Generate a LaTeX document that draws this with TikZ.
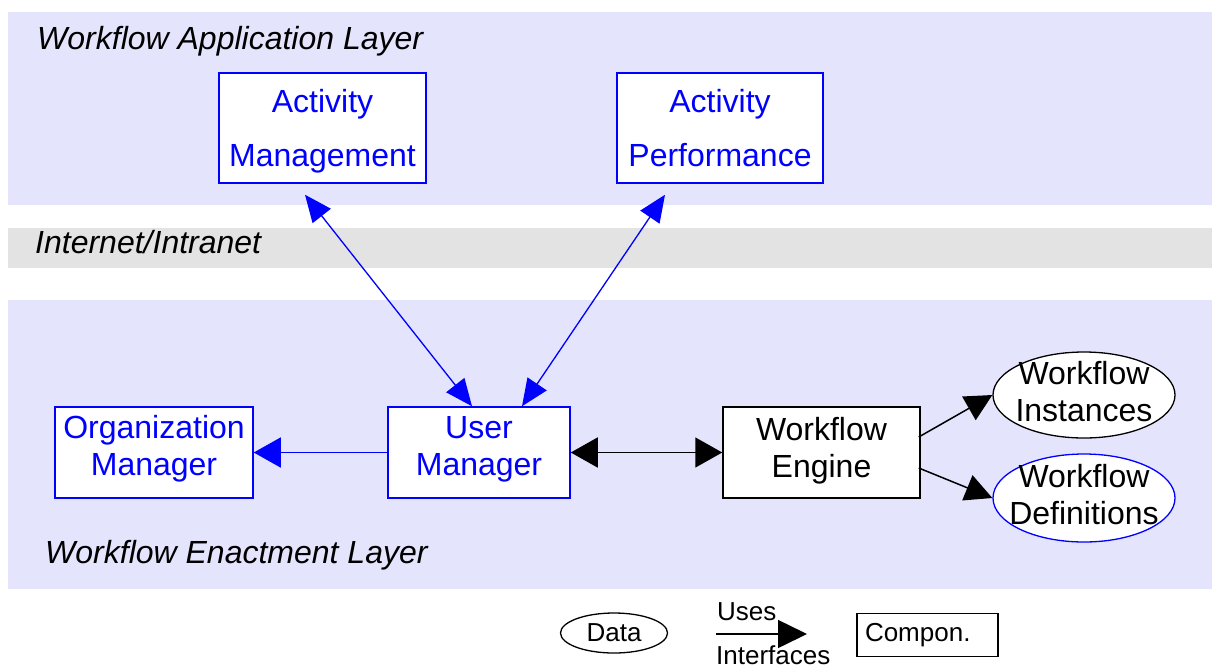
\documentclass[tikz,border=0pt]{standalone}
\usepackage{fontspec}
\setmainfont{Liberation Sans}
\usetikzlibrary{arrows.meta,shapes.geometric}
\definecolor{lav}{RGB}{228,228,252}
\definecolor{grayband}{RGB}{227,227,227}
\definecolor{bl}{RGB}{0,0,255}
\begin{document}
\begin{tikzpicture}[x=1pt,y=-1pt,
  comp/.style={draw=bl, fill=white, line width=1.5pt, text=bl, inner sep=0pt, align=center,
    font=\fontsize{32pt}{37pt}\selectfont},
  compblack/.style={comp, draw=black, text=black},
  dataell/.style={draw=black, fill=white, ellipse, line width=1.3pt, inner sep=0pt},
  lbl/.style={font=\fontsize{32pt}{37pt}\selectfont, align=center, inner sep=0pt},
  layer/.style={font=\fontsize{32pt}{37pt}\selectfont\itshape, anchor=base west, inner sep=0pt},
  legend/.style={font=\fontsize{26pt}{30pt}\selectfont, inner sep=0pt},
  conn/.style={line width=1.5pt},
  dtip/.tip={Triangle[length=27pt,width=23pt]},
  htip/.tip={Triangle[length=27pt,width=30pt]},
]
\useasboundingbox (0,0) rectangle (1212,670);
% bands
\fill[lav] (8,12) rectangle (1212,205);
\fill[grayband] (8,228) rectangle (1212,268);
\fill[lav] (8,300) rectangle (1212,589);
% layer labels
\node[layer] (lapp) at (37,49) {Workflow Application Layer};
\node[layer] (lnet) at (35,253) {Internet/Intranet};
\node[layer] (lenact) at (45,563) {Workflow Enactment Layer};
% components
\node[comp, minimum width=207pt, minimum height=110pt, font=\fontsize{32pt}{54pt}\selectfont, text depth=0pt] (am) at (322.5,128) {Activity\\Management};
\node[comp, minimum width=206pt, minimum height=110pt, font=\fontsize{32pt}{54pt}\selectfont] (ap) at (720,128) {Activity\\Performance};
\node[comp, minimum width=198pt, minimum height=91pt, text depth=14.5pt] (om) at (154,452.5) {Organization\\Manager};
\node[comp, minimum width=182pt, minimum height=91pt, text depth=13.5pt] (um) at (479,452.5) {User\\Manager};
\node[compblack, minimum width=197pt, minimum height=91pt, text depth=10.5pt] (we) at (821.5,452.5) {Workflow\\Engine};
% data
\node[dataell, minimum width=182pt, minimum height=86pt] (wi) at (1084,395) {};
\node[lbl] (wit) at (1084,392) {Workflow\\Instances};
\node[dataell, draw=bl, minimum width=182pt, minimum height=88pt] (wd) at (1084,498) {};
\node[lbl] (wdt) at (1084,495) {Workflow\\Definitions};
% connectors
\draw[conn, draw=bl, line width=1.3pt, fill=bl, {dtip}-{dtip}] ([xshift=-17.5pt,yshift=-11pt]am.south) -- ([xshift=-7pt]um.north);
\draw[conn, draw=bl, line width=1.3pt, fill=bl, {dtip}-{dtip}] ([xshift=-55pt,yshift=-11pt]ap.south) -- ([xshift=43pt]um.north);
\draw[conn, draw=bl, fill=bl, -{htip}] (um.west) -- (om.east);
\draw[conn, fill=black, {htip}-{htip}] (um.east) -- (we.west);
\draw[conn, fill=black, -{Triangle[length=27pt,width=27pt]}] ([xshift=-2pt,yshift=15.5pt]we.east) -- (wi.west);
\draw[conn, fill=black, -{Triangle[length=27pt,width=27pt]}] ([xshift=-2pt,yshift=-15.5pt]we.east) -- (wd.west);
% legend
\node[dataell, minimum width=107pt, minimum height=40pt, legend] (ldata) at (614,633) {Data};
\coordinate (la) at (716,634);
\coordinate (lb) at (807,634);
\draw[conn, fill=black, -{Triangle[length=29pt,width=28pt]}] (la) -- (lb);
\node[legend, anchor=west] (luses) at (717,612) {Uses};
\node[legend, anchor=west] (lint) at (716,655) {Interfaces};
\node[draw=black, line width=1.3pt, fill=white, minimum width=141pt, minimum height=43pt, legend,
  inner xsep=8pt, text width=125pt, align=left] (lcomp) at (927.5,635) {Compon.};
\end{tikzpicture}
\end{document}
